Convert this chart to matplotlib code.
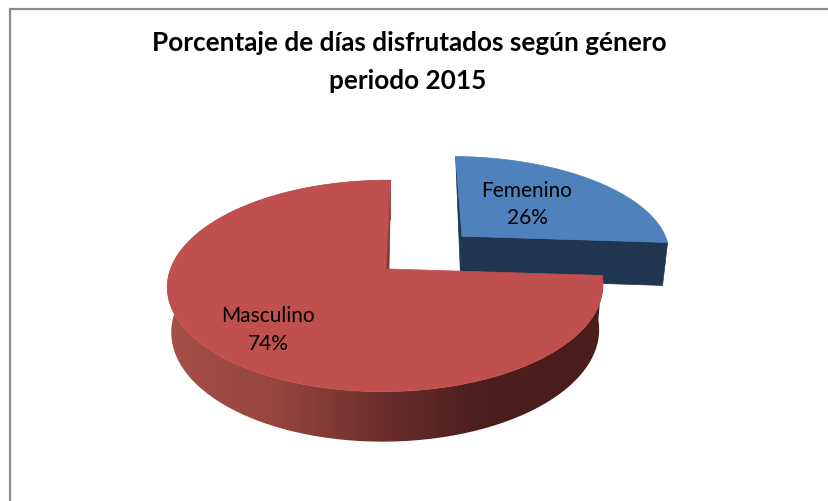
import numpy as np
import matplotlib
matplotlib.use("Agg")
import matplotlib.pyplot as plt
from matplotlib.colors import LinearSegmentedColormap
from matplotlib.path import Path
from matplotlib.patches import PathPatch

categories = ["Femenino", "Masculino"]
values = [26, 74]
title_lines = ["Porcentaje de días disfrutados según género", "periodo 2015"]

W, H = 829, 502

# camera for the tilted disc (pixels)
cx, cy = 389, 270
a, b = 215, 103
k, m = 0.16, 0.016
explode = 0.52
blue_drop = 1.7
blue_skew = -0.05
blue_stretch = 0.028
red_skew = 0.02
depth_scale = 0.0473
depth_base = 43
depth_ref_y = 244


def project(x, y):
    w = 1 + k * y + m * x
    return cx + a * x / w, cy - b * y / w


def lower(px, py, shift=0.0):
    # same points on the underside of the disc
    return cx + shift + (px - cx) * 0.982, py + depth_base + (py - depth_ref_y) * depth_scale


def slice_top(start, stop, off=0.0):
    mid = (start + stop) / 2
    ox, oy = off * np.sin(mid), off * np.cos(mid)
    t = np.linspace(start, stop, 200)
    apex = project(ox, oy)
    arc = project(ox + np.sin(t), oy + np.cos(t))
    return apex, arc


def fix_blue(pt, x0, y0):
    # small hand fit so the exploded slice lands where the picture has it
    x, y = pt
    return x + blue_skew * (y - y0) + blue_stretch * (x - x0), y + blue_drop


fig = plt.figure(figsize=(W / 100, H / 100), dpi=100)
ax = fig.add_axes([0, 0, 1, 1])
ax.set_xlim(0, W)
ax.set_ylim(H, 0)
ax.axis("off")

# chart border, only top and left fall inside the crop
ax.plot([10, 10, W], [H, 10, 10], color="#8c8c8c", lw=1.6, solid_joinstyle="miter")

fracs = np.array(values) / sum(values)
ends = np.cumsum(fracs) * 2 * np.pi
starts = ends - fracs * 2 * np.pi

# Femenino slice
apex, arc = slice_top(starts[0], ends[0], explode)
x0, y0 = arc[0][0], arc[1][0]
apex = fix_blue(apex, x0, y0)
arc = fix_blue(arc, x0, y0)
la = lower(*apex)
larc = lower(*arc)
ax.fill([arc[0][0], apex[0], la[0]], [arc[1][0], apex[1], la[1]], color="#1f3550", lw=0.5)
ax.fill([apex[0], arc[0][-1], larc[0][-1], la[0]], [apex[1], arc[1][-1], larc[1][-1], la[1]], color="#1f3550", lw=0.5)
ax.fill(np.r_[apex[0], arc[0]], np.r_[apex[1], arc[1]], color="#4f81bd", lw=0.5)

# Masculino slice
apex, arc = slice_top(starts[1], ends[1])
arc = (arc[0] + red_skew * (cy - arc[1]), arc[1])
la = lower(*apex)
larc = lower(*arc)

# outer wall, with the shading running left to right
xs = np.r_[arc[0], larc[0][::-1]]
ys = np.r_[arc[1], larc[1][::-1]]
wall_path = Path(np.column_stack([xs, ys]))
shade = LinearSegmentedColormap.from_list(
    "wall", [(0, "#a64f4b"), (0.25, "#97453f"), (0.5, "#6a2e2b"), (0.72, "#4c1e1c"), (1, "#4a1d1b")]
)
gradient = np.linspace(0, 1, 256).reshape(1, -1)
wall = ax.imshow(gradient, cmap=shade, extent=[xs.min(), xs.max(), ys.max(), ys.min()], aspect="auto", zorder=2)
wall.set_clip_path(PathPatch(wall_path, transform=ax.transData))
ax.set_xlim(0, W)
ax.set_ylim(H, 0)

ax.fill(np.r_[apex[0], arc[0]], np.r_[apex[1], arc[1]], color="#c0504d", lw=0.5, zorder=3)

# thin cut face beside the gap
ax.fill([arc[0][-1], apex[0], apex[0] - 2.5], [arc[1][-1], apex[1], apex[1]], color="#7e3835", lw=0, zorder=4)

# text
font = ["Lato", "DejaVu Sans"]
ax.text(409, 43, title_lines[0], ha="center", va="center", fontsize=18.8, fontweight="bold", family=font, zorder=5)
ax.text(408, 81, title_lines[1], ha="center", va="center", fontsize=18.8, fontweight="bold", family=font, zorder=5)
ax.text(527, 191, categories[0], ha="center", va="center", fontsize=15, family=font, zorder=5)
ax.text(527, 218, f"{values[0]}%", ha="center", va="center", fontsize=15, family=font, zorder=5)
ax.text(268, 316, categories[1], ha="center", va="center", fontsize=15, family=font, zorder=5)
ax.text(268, 344, f"{values[1]}%", ha="center", va="center", fontsize=15, family=font, zorder=5)

fig.savefig("out.png", dpi=100)
